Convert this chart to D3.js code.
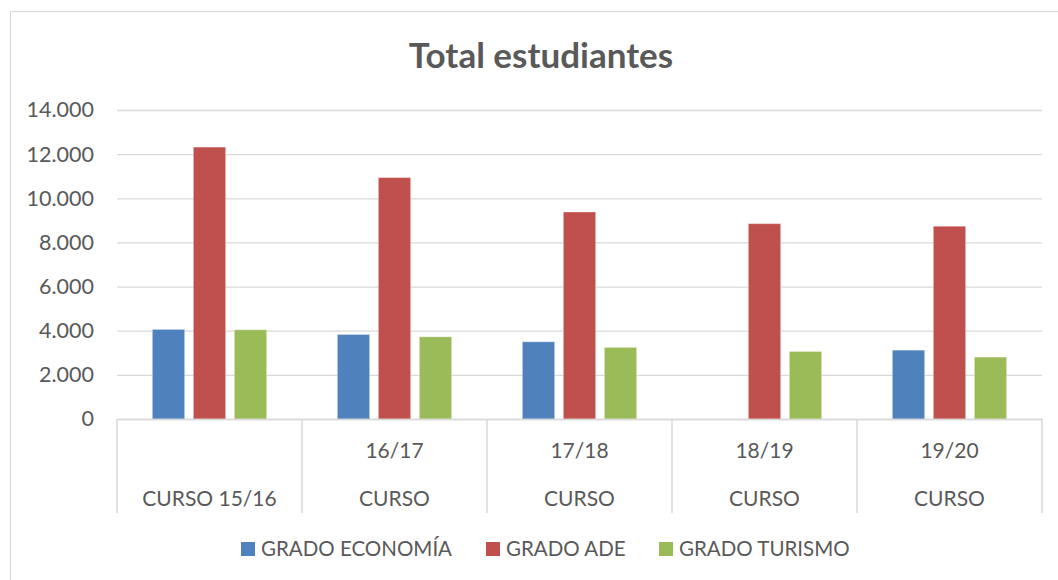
<!DOCTYPE html>
<html>
<head>
<meta charset="utf-8">
<script src="https://cdn.jsdelivr.net/npm/d3@7"></script>
<style>
  html, body { margin: 0; padding: 0; background: #fff; }
  svg { display: block; font-family: Lato, "Open Sans", sans-serif; }
</style>
</head>
<body>
<div id="chart"></div>
<script>
const categories = ['CURSO 15/16', 'CURSO 16/17', 'CURSO 17/18', 'CURSO 18/19', 'CURSO 19/20'];
// Excel wrapped the labels oddly: two lines per category
const labelTop = ['', '16/17', '17/18', '18/19', '19/20'];
const labelBottom = ['CURSO 15/16', 'CURSO', 'CURSO', 'CURSO', 'CURSO'];

const seriesNames = ['GRADO ECONOMÍA', 'GRADO ADE', 'GRADO TURISMO'];
const economia = [4060, 3830, 3500, 0, 3120];
const ade = [12320, 10940, 9380, 8850, 8735];
const turismo = [4045, 3725, 3245, 3060, 2805];
const yTicks = [0, 2000, 4000, 6000, 8000, 10000, 12000, 14000];

const colors = ['#4f81bd', '#c0504d', '#9bbb59'];
const seriesValues = [economia, ade, turismo];

const width = 1058;
const height = 580;
const plot = {left: 117, right: 1042, top: 110, bottom: 419};

const esLocale = d3.formatLocale({decimal: ',', thousands: '.', grouping: [3], currency: ['', ' €']});
const fmt = esLocale.format(',');

const svg = d3.select('#chart').append('svg')
  .attr('width', width)
  .attr('height', height);

// chart area border (cropped on the right and bottom)
svg.append('rect')
  .attr('x', 10.5).attr('y', 11.5)
  .attr('width', width + 20).attr('height', height + 20)
  .attr('fill', 'none')
  .attr('stroke', '#d9d9d9')
  .attr('stroke-width', 1.2);

svg.append('text')
  .attr('x', 541)
  .attr('y', 68)
  .attr('text-anchor', 'middle')
  .attr('font-size', 35)
  .attr('font-weight', 'bold')
  .attr('fill', '#595959')
  .text('Total estudiantes');

const y = d3.scaleLinear()
  .domain([0, 14000])
  .range([plot.bottom, plot.top]);

const x = d3.scaleBand()
  .domain(categories)
  .range([plot.left, plot.right])
  .padding(0);

const xSub = d3.scaleBand()
  .domain(seriesNames)
  .range([0, x.bandwidth()])
  .paddingInner(0.212)
  .paddingOuter(0.862);

// gridlines
const grid = svg.append('g')
  .call(d3.axisLeft(y).tickValues(yTicks).tickSize(-(plot.right - plot.left)).tickFormat(''))
  .attr('transform', `translate(${plot.left},0)`);
grid.select('.domain').remove();
grid.selectAll('line').attr('stroke', '#d9d9d9').attr('stroke-width', 1.3);

// y tick labels
const yAxis = svg.append('g')
  .attr('transform', `translate(${plot.left},0)`)
  .call(d3.axisLeft(y).tickValues(yTicks).tickSize(0).tickPadding(23).tickFormat(fmt));
yAxis.select('.domain').remove();
yAxis.selectAll('text')
  .attr('font-family', 'Lato, sans-serif')
  .attr('font-size', 21.5)
  .attr('fill', '#595959');

// bars
const groups = svg.append('g')
  .selectAll('g')
  .data(seriesNames)
  .join('g')
  .attr('fill', (d, i) => colors[i]);

groups.selectAll('rect')
  .data((s, si) => categories.map((c, ci) => ({cat: c, series: s, value: seriesValues[si][ci]})))
  .join('rect')
  .attr('x', d => x(d.cat) + xSub(d.series))
  .attr('y', d => y(d.value))
  .attr('width', xSub.bandwidth())
  .attr('height', d => y(0) - y(d.value))
  .attr('stroke', d => d.value > 0 ? '#ffffff' : 'none')
  .attr('stroke-opacity', 0.35)
  .attr('stroke-width', 1);

// category axis with tall divider ticks
const xAxis = svg.append('g')
  .attr('transform', `translate(0,${plot.bottom})`)
  .call(d3.axisBottom(x).tickSize(0).tickFormat(''));
xAxis.select('.domain').attr('stroke', '#d9d9d9').attr('stroke-width', 1.5);

const dividers = [plot.left].concat(categories.map(c => x(c) + x.bandwidth()));
svg.append('g')
  .selectAll('line')
  .data(dividers)
  .join('line')
  .attr('x1', d => d).attr('x2', d => d)
  .attr('y1', plot.bottom).attr('y2', 513)
  .attr('stroke', '#d9d9d9')
  .attr('stroke-width', 1.5);

const catLabels = svg.append('g')
  .attr('font-size', 21)
  .attr('fill', '#595959')
  .attr('text-anchor', 'middle');

catLabels.selectAll('text.top')
  .data(categories)
  .join('text')
  .attr('class', 'top')
  .attr('x', d => x(d) + x.bandwidth() / 2)
  .attr('y', 458)
  .text((d, i) => labelTop[i]);

catLabels.selectAll('text.bottom')
  .data(categories)
  .join('text')
  .attr('class', 'bottom')
  .attr('x', d => x(d) + x.bandwidth() / 2)
  .attr('y', 506)
  .text((d, i) => labelBottom[i]);

// legend
const legendX = [241, 486, 659];
const legend = svg.append('g')
  .selectAll('g')
  .data(seriesNames)
  .join('g')
  .attr('transform', (d, i) => `translate(${legendX[i]},542)`);

legend.append('rect')
  .attr('width', 14)
  .attr('height', 14)
  .attr('fill', (d, i) => colors[i]);

legend.append('text')
  .attr('x', 20)
  .attr('y', 14)
  .attr('font-size', 20.5)
  .attr('fill', '#595959')
  .text(d => d);
</script>
</body>
</html>
